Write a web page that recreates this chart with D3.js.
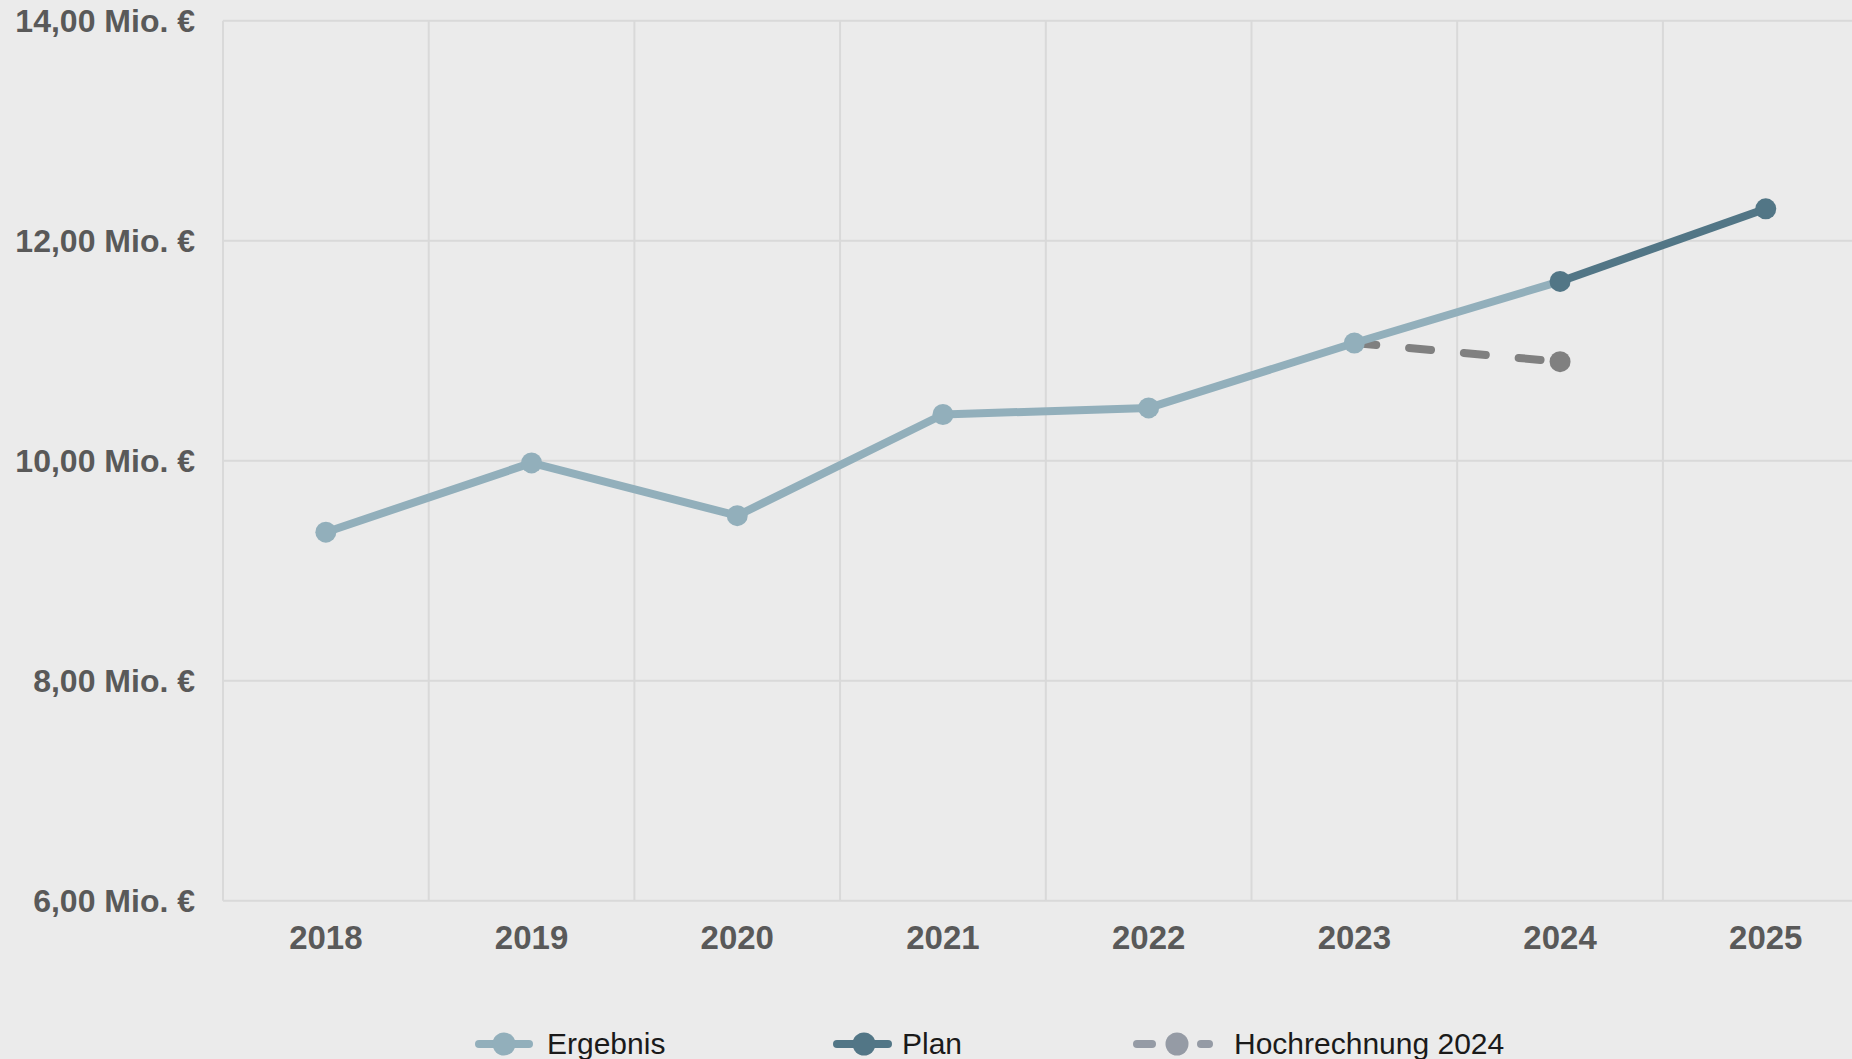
<!DOCTYPE html>
<html><head><meta charset="utf-8">
<script src="https://cdn.jsdelivr.net/npm/d3@7"></script>
<style>
html,body{margin:0;padding:0;background:#ebebeb;overflow:hidden;}
svg{display:block;}
</style></head>
<body>
<svg id="chart" width="1852" height="1059"></svg>
<script>
const years = ["2018","2019","2020","2021","2022","2023","2024","2025"];
const ergebnisYears = ["2018","2019","2020","2021","2022","2023","2024"];
const ergebnisValues = [9.35, 9.98, 9.50, 10.42, 10.48, 11.07, 11.63];
const planYears = ["2024","2025"];
const planValues = [11.63, 12.29];
const hochYears = ["2023","2024"];
const hochValues = [11.07, 10.90];
const yTicks = [6, 8, 10, 12, 14];
const legendLabels = ["Ergebnis", "Plan", "Hochrechnung 2024"];

(function () {
const C_ERG = "#92afbb", C_PLAN = "#527686", C_HOCH = "#808080", C_HOCH_LEG = "#959ba5";
const svg = d3.select("#chart");
const mLeft = 223, mTop = 20.7, mBottom = 900.7, band = 205.7;
const x = d3.scaleBand().domain(years).range([mLeft, mLeft + band * years.length]).paddingInner(0).paddingOuter(0);
const y = d3.scaleLinear().domain([6, 14]).range([mBottom, mTop]);
const cx = d => x(d) + x.bandwidth() / 2;
const fmt = v => d3.format(".2f")(v).replace(".", ",") + " Mio. €";

// horizontal grid
svg.append("g").selectAll("line").data(yTicks).join("line")
  .attr("x1", mLeft).attr("x2", 1852).attr("y1", d => y(d)).attr("y2", d => y(d))
  .attr("stroke", "#d9d9d9").attr("stroke-width", 2);
// vertical grid
svg.append("g").selectAll("line").data(years).join("line")
  .attr("x1", d => x(d)).attr("x2", d => x(d)).attr("y1", mTop).attr("y2", mBottom)
  .attr("stroke", "#d9d9d9").attr("stroke-width", 2);

// y labels
svg.append("g").selectAll("text").data(yTicks).join("text")
  .attr("x", 195).attr("y", d => y(d)).attr("dy", "0.36em")
  .attr("text-anchor", "end").attr("font-family", "Liberation Sans, Arial, sans-serif")
  .attr("font-weight", "bold").attr("font-size", 32).attr("fill", "#595959")
  .text(fmt);

// x labels
svg.append("g").selectAll("text").data(years).join("text")
  .attr("x", d => cx(d)).attr("y", 949)
  .attr("text-anchor", "middle").attr("font-family", "Liberation Sans, Arial, sans-serif")
  .attr("font-weight", "bold").attr("font-size", 33).attr("fill", "#595959")
  .text(d => d);

const line = d3.line().x(d => cx(d[0])).y(d => y(d[1]));
const ergData = ergebnisYears.map((d, i) => [d, ergebnisValues[i]]);
const planData = planYears.map((d, i) => [d, planValues[i]]);
const hochData = hochYears.map((d, i) => [d, hochValues[i]]);

// Hochrechnung (dashed)
svg.append("path").datum(hochData).attr("d", line).attr("fill", "none")
  .attr("stroke", C_HOCH).attr("stroke-width", 8).attr("stroke-linecap", "round")
  .attr("stroke-dasharray", "22,33");
svg.append("circle").attr("cx", cx(hochData[1][0])).attr("cy", y(hochData[1][1])).attr("r", 10.5).attr("fill", C_HOCH);

// Ergebnis
svg.append("path").datum(ergData).attr("d", line).attr("fill", "none")
  .attr("stroke", C_ERG).attr("stroke-width", 8).attr("stroke-linejoin", "round");
svg.append("g").selectAll("circle").data(ergData.slice(0, 6)).join("circle")
  .attr("cx", d => cx(d[0])).attr("cy", d => y(d[1])).attr("r", 10.5).attr("fill", C_ERG);

// Plan
svg.append("path").datum(planData).attr("d", line).attr("fill", "none")
  .attr("stroke", C_PLAN).attr("stroke-width", 8);
svg.append("g").selectAll("circle").data(planData).join("circle")
  .attr("cx", d => cx(d[0])).attr("cy", d => y(d[1])).attr("r", 10.5).attr("fill", C_PLAN);

// legend
const ly = 1044;
const leg = svg.append("g");
const legItems = [
  {label: legendLabels[0], color: C_ERG, x0: 475, x1: 533, dot: 504, tx: 547, dash: false},
  {label: legendLabels[1], color: C_PLAN, x0: 833, x1: 892, dot: 864, tx: 902, dash: false},
  {label: legendLabels[2], color: C_HOCH_LEG, x0: 1133, x1: 1213, dot: 1177, tx: 1234, dash: true}
];
legItems.forEach(it => {
  if (it.dash) {
    leg.append("line").attr("x1", 1137).attr("x2", 1152).attr("y1", ly).attr("y2", ly)
      .attr("stroke", it.color).attr("stroke-width", 8).attr("stroke-linecap", "round");
    leg.append("line").attr("x1", 1201).attr("x2", 1209).attr("y1", ly).attr("y2", ly)
      .attr("stroke", it.color).attr("stroke-width", 8).attr("stroke-linecap", "round");
  } else {
    leg.append("line").attr("x1", it.x0 + 4).attr("x2", it.x1 - 4).attr("y1", ly).attr("y2", ly)
      .attr("stroke", it.color).attr("stroke-width", 8).attr("stroke-linecap", "round");
  }
  leg.append("circle").attr("cx", it.dot).attr("cy", ly).attr("r", 11.5).attr("fill", it.color);
  leg.append("text").attr("x", it.tx).attr("y", 1054)
    .attr("font-family", "Liberation Sans, Arial, sans-serif").attr("font-size", 30)
    .attr("fill", "#1a1a1a").text(it.label);
});
})();
</script>
</body></html>
